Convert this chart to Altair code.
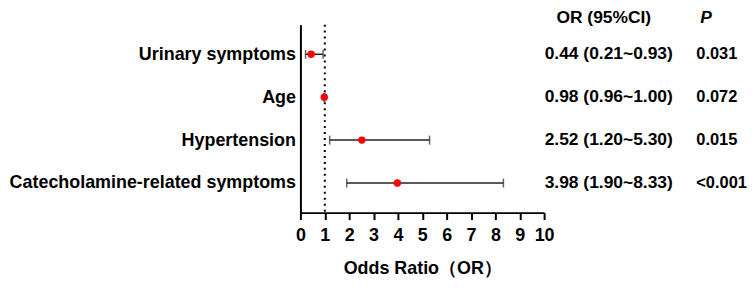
import altair as alt
import pandas as pd

factors = ["Urinary symptoms", "Age", "Hypertension", "Catecholamine-related symptoms"]
or_vals = [0.44, 0.98, 2.52, 3.98]
ci_low = [0.21, 0.96, 1.20, 1.90]
ci_high = [0.93, 1.00, 5.30, 8.33]
p_text = ["0.031", "0.072", "0.015", "<0.001"]
x_ticks = list(range(0, 11))
ref_x = [1]

df = pd.DataFrame({
    "factor": factors,
    "or": or_vals,
    "lo": ci_low,
    "hi": ci_high,
    "p": p_text,
})
df["ci_text"] = [f"{o:.2f} ({l:.2f}~{h:.2f})" for o, l, h in zip(or_vals, ci_low, ci_high)]

FONT = "Liberation Sans"
BAR = "#222222"

x_scale = alt.Scale(domain=[0, 10], nice=False)
x_axis = alt.Axis(
    title="Odds Ratio（OR）",
    values=x_ticks,
    format="d",
    grid=False,
    labelOverlap=False,
    labelBound=False,
    labelFlush=False,
    domainColor="black",
    domainWidth=2,
    tickColor="black",
    tickWidth=2,
    tickSize=7,
    labelFont=FONT,
    labelFontSize=18,
    labelFontWeight="bold",
    labelColor="black",
    labelPadding=7,
    titleFont=FONT,
    titleFontSize=18,
    titleFontWeight="bold",
    titleColor="black",
    titlePadding=15,
)

y_enc = alt.Y(
    "factor:N",
    sort=factors,
    scale=alt.Scale(type="point", padding=0.69),
    axis=alt.Axis(
        title=None,
        ticks=False,
        domainColor="black",
        domainWidth=2,
        labelFont=FONT,
        labelFontSize=18,
        labelFontWeight="bold",
        labelColor="black",
        labelPadding=5,
        labelLimit=400,
        grid=False,
    ),
)

base = alt.Chart(df)

ref = alt.Chart(pd.DataFrame({"x": ref_x})).mark_rule(
    color="black", strokeWidth=2, strokeDash=[2, 4]
).encode(x=alt.X("x:Q", scale=x_scale, axis=x_axis))

bars = base.mark_rule(color=BAR, strokeWidth=1.5).encode(
    x=alt.X("lo:Q", scale=x_scale, axis=x_axis), x2="hi:Q", y=y_enc
)

cap_lo = base.mark_tick(color=BAR, thickness=1.5, size=9).encode(
    x=alt.X("lo:Q", scale=x_scale, axis=x_axis), y=y_enc
)
cap_hi = base.mark_tick(color=BAR, thickness=1.5, size=9).encode(
    x=alt.X("hi:Q", scale=x_scale, axis=x_axis), y=y_enc
)

points = base.mark_circle(color="#ff0000", opacity=1, size=55).encode(
    x=alt.X("or:Q", scale=x_scale, axis=x_axis), y=y_enc
)

ci_txt = base.mark_text(
    font=FONT, fontSize=17.5, fontWeight="bold", color="black",
    align="center", baseline="middle"
).encode(x=alt.value(310), y=y_enc, text="ci_text:N")

p_txt = base.mark_text(
    font=FONT, fontSize=16.5, fontWeight="bold", color="black",
    align="left", baseline="middle"
).encode(x=alt.value(398), y=y_enc, text="p:N")

hdr_df = pd.DataFrame({"h1": ["OR (95%CI)"], "h2": ["P"]})
hdr1 = alt.Chart(hdr_df).mark_text(
    font=FONT, fontSize=17.5, fontWeight="bold", color="black",
    align="center", baseline="middle"
).encode(x=alt.value(305), y=alt.value(-7), text="h1:N")
hdr2 = alt.Chart(hdr_df).mark_text(
    font=FONT, fontSize=17.5, fontWeight="bold", fontStyle="italic", color="black",
    align="left", baseline="middle"
).encode(x=alt.value(402), y=alt.value(-7), text="h2:N")

chart = alt.layer(
    ref, bars, cap_lo, cap_hi, points, ci_txt, p_txt, hdr1, hdr2
).properties(
    width=245,
    height=189,
    autosize=alt.AutoSizeParams(type="none"),
    padding={"left": 294, "top": 16, "right": 205, "bottom": 66},
    background="white",
).configure_view(stroke=None)

chart.save("out.html", embed_options={"renderer": "svg", "actions": False})
